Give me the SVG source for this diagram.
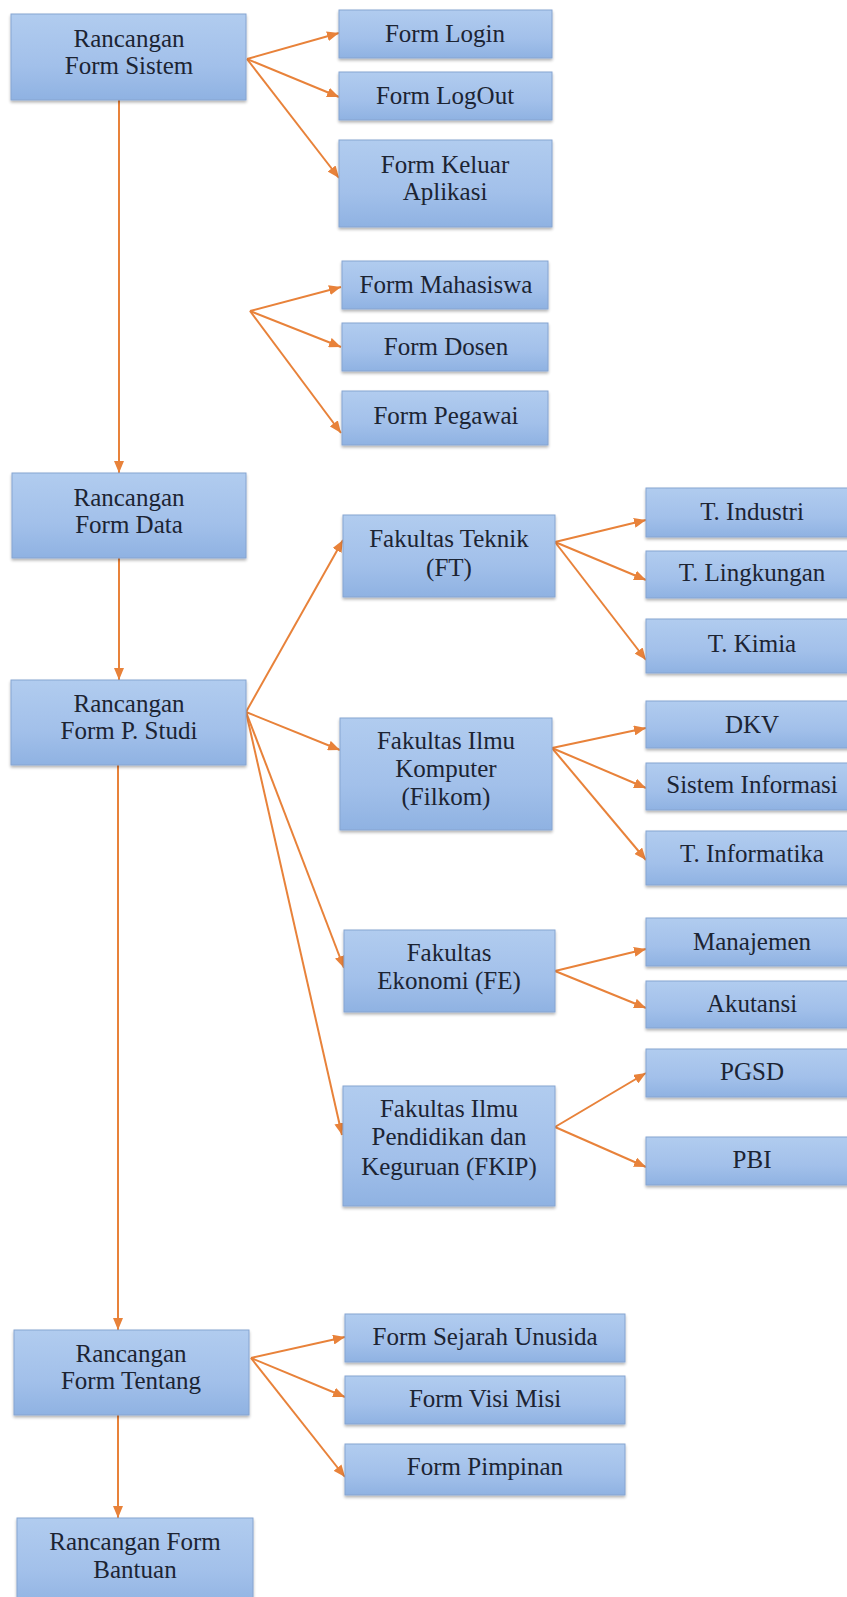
<svg xmlns="http://www.w3.org/2000/svg" width="847" height="1597" viewBox="0 0 847 1597">
<style>
  .box { fill: url(#boxGrad); stroke: #86a5d1; stroke-width: 1; filter: url(#shadow); }
  .lbl { font-family: "Liberation Serif", "Times New Roman", serif; font-size: 25px; fill: #1c2433; text-anchor: middle; }
  .con { stroke: #E8823A; stroke-width: 2; fill: none; marker-end: url(#arrow); }
</style>
<defs>
  <linearGradient id="boxGrad" x1="0" y1="0" x2="0" y2="1">
    <stop offset="0" stop-color="#b1ccef"/>
    <stop offset="0.6" stop-color="#a2c0ea"/>
    <stop offset="1" stop-color="#8fb2e2"/>
  </linearGradient>
  <filter id="shadow" x="-5%" y="-10%" width="110%" height="130%">
    <feGaussianBlur in="SourceAlpha" stdDeviation="1.5"/>
    <feOffset dx="0" dy="2" result="b"/>
    <feComponentTransfer><feFuncA type="linear" slope="0.3"/></feComponentTransfer>
    <feMerge><feMergeNode/><feMergeNode in="SourceGraphic"/></feMerge>
  </filter>
  <marker id="arrow" markerUnits="userSpaceOnUse" markerWidth="13" markerHeight="10" refX="12" refY="5" orient="auto">
    <path d="M0,0 L12,5 L0,10 z" fill="#E8823A"/>
  </marker>
</defs>
<rect width="847" height="1597" fill="#ffffff"/>

<g id="connectors">
  <line class="con" x1="119" y1="100" x2="119" y2="473"/>
  <line class="con" x1="119" y1="558" x2="119" y2="680"/>
  <line class="con" x1="118" y1="765" x2="118" y2="1330"/>
  <line class="con" x1="118" y1="1415" x2="118" y2="1518"/>

  <line class="con" x1="247" y1="59" x2="339" y2="33"/>
  <line class="con" x1="247" y1="59" x2="339" y2="97"/>
  <line class="con" x1="247" y1="59" x2="339" y2="178"/>

  <line class="con" x1="250" y1="311" x2="341" y2="287"/>
  <line class="con" x1="250" y1="311" x2="341" y2="347"/>
  <line class="con" x1="250" y1="311" x2="341" y2="433"/>

  <line class="con" x1="246" y1="712" x2="343" y2="540"/>
  <line class="con" x1="246" y1="712" x2="340" y2="750"/>
  <line class="con" x1="246" y1="712" x2="344" y2="968"/>
  <line class="con" x1="246" y1="712" x2="342" y2="1135"/>

  <line class="con" x1="555" y1="542" x2="646" y2="520"/>
  <line class="con" x1="555" y1="542" x2="646" y2="580"/>
  <line class="con" x1="555" y1="542" x2="646" y2="660"/>

  <line class="con" x1="552" y1="748" x2="646" y2="728"/>
  <line class="con" x1="552" y1="748" x2="646" y2="788"/>
  <line class="con" x1="552" y1="748" x2="646" y2="860"/>

  <line class="con" x1="555" y1="971" x2="646" y2="949"/>
  <line class="con" x1="555" y1="971" x2="646" y2="1008"/>

  <line class="con" x1="555" y1="1127" x2="646" y2="1073"/>
  <line class="con" x1="555" y1="1127" x2="646" y2="1167"/>

  <line class="con" x1="251" y1="1358" x2="345" y2="1337"/>
  <line class="con" x1="251" y1="1358" x2="345" y2="1397"/>
  <line class="con" x1="251" y1="1358" x2="345" y2="1477"/>
</g>

<g id="n-sistem"><rect class="box" x="11" y="14" width="235" height="86"/>
  <text class="lbl" x="129" y="47">Rancangan</text><text class="lbl" x="129" y="74">Form Sistem</text></g>
<g id="n-login"><rect class="box" x="339" y="10" width="213" height="48"/>
  <text class="lbl" x="445" y="42">Form Login</text></g>
<g id="n-logout"><rect class="box" x="339" y="72" width="213" height="48"/>
  <text class="lbl" x="445" y="104">Form LogOut</text></g>
<g id="n-keluar"><rect class="box" x="339" y="140" width="213" height="87"/>
  <text class="lbl" x="445" y="173">Form Keluar</text><text class="lbl" x="445" y="200">Aplikasi</text></g>

<g id="n-mahasiswa"><rect class="box" x="342" y="261" width="206" height="48"/>
  <text class="lbl" x="446" y="293">Form Mahasiswa</text></g>
<g id="n-dosen"><rect class="box" x="342" y="323" width="206" height="48"/>
  <text class="lbl" x="446" y="355">Form Dosen</text></g>
<g id="n-pegawai"><rect class="box" x="342" y="391" width="206" height="54"/>
  <text class="lbl" x="446" y="424">Form Pegawai</text></g>

<g id="n-data"><rect class="box" x="12" y="473" width="234" height="85"/>
  <text class="lbl" x="129" y="506">Rancangan</text><text class="lbl" x="129" y="533">Form Data</text></g>
<g id="n-pstudi"><rect class="box" x="11" y="680" width="235" height="85"/>
  <text class="lbl" x="129" y="712">Rancangan</text><text class="lbl" x="129" y="739">Form P. Studi</text></g>

<g id="n-ft"><rect class="box" x="343" y="515" width="212" height="82"/>
  <text class="lbl" x="449" y="547">Fakultas Teknik</text><text class="lbl" x="449" y="576">(FT)</text></g>
<g id="n-filkom"><rect class="box" x="340" y="718" width="212" height="112"/>
  <text class="lbl" x="446" y="749">Fakultas Ilmu</text><text class="lbl" x="446" y="777">Komputer</text><text class="lbl" x="446" y="805">(Filkom)</text></g>
<g id="n-fe"><rect class="box" x="344" y="930" width="211" height="82"/>
  <text class="lbl" x="449" y="961">Fakultas</text><text class="lbl" x="449" y="989">Ekonomi (FE)</text></g>
<g id="n-fkip"><rect class="box" x="343" y="1086" width="212" height="120"/>
  <text class="lbl" x="449" y="1117">Fakultas Ilmu</text><text class="lbl" x="449" y="1145">Pendidikan dan</text><text class="lbl" x="449" y="1175">Keguruan (FKIP)</text></g>

<g id="n-tindustri"><rect class="box" x="646" y="488" width="212" height="49"/>
  <text class="lbl" x="752" y="520">T. Industri</text></g>
<g id="n-tlingkungan"><rect class="box" x="646" y="551" width="212" height="47"/>
  <text class="lbl" x="752" y="581">T. Lingkungan</text></g>
<g id="n-tkimia"><rect class="box" x="646" y="619" width="212" height="54"/>
  <text class="lbl" x="752" y="652">T. Kimia</text></g>
<g id="n-dkv"><rect class="box" x="646" y="701" width="212" height="47"/>
  <text class="lbl" x="752" y="733">DKV</text></g>
<g id="n-si"><rect class="box" x="646" y="763" width="212" height="47"/>
  <text class="lbl" x="752" y="793">Sistem Informasi</text></g>
<g id="n-ti"><rect class="box" x="646" y="831" width="212" height="54"/>
  <text class="lbl" x="752" y="862">T. Informatika</text></g>
<g id="n-manajemen"><rect class="box" x="646" y="918" width="212" height="48"/>
  <text class="lbl" x="752" y="950">Manajemen</text></g>
<g id="n-akutansi"><rect class="box" x="646" y="981" width="212" height="47"/>
  <text class="lbl" x="752" y="1012">Akutansi</text></g>
<g id="n-pgsd"><rect class="box" x="646" y="1049" width="212" height="48"/>
  <text class="lbl" x="752" y="1080">PGSD</text></g>
<g id="n-pbi"><rect class="box" x="646" y="1137" width="212" height="48"/>
  <text class="lbl" x="752" y="1168">PBI</text></g>

<g id="n-tentang"><rect class="box" x="14" y="1330" width="235" height="85"/>
  <text class="lbl" x="131" y="1362">Rancangan</text><text class="lbl" x="131" y="1389">Form Tentang</text></g>
<g id="n-sejarah"><rect class="box" x="345" y="1314" width="280" height="48"/>
  <text class="lbl" x="485" y="1345">Form Sejarah Unusida</text></g>
<g id="n-visimisi"><rect class="box" x="345" y="1376" width="280" height="48"/>
  <text class="lbl" x="485" y="1407">Form Visi Misi</text></g>
<g id="n-pimpinan"><rect class="box" x="345" y="1444" width="280" height="51"/>
  <text class="lbl" x="485" y="1475">Form Pimpinan</text></g>

<g id="n-bantuan"><rect class="box" x="17" y="1518" width="236" height="90"/>
  <text class="lbl" x="135" y="1550">Rancangan Form</text><text class="lbl" x="135" y="1578">Bantuan</text></g>
</svg>
